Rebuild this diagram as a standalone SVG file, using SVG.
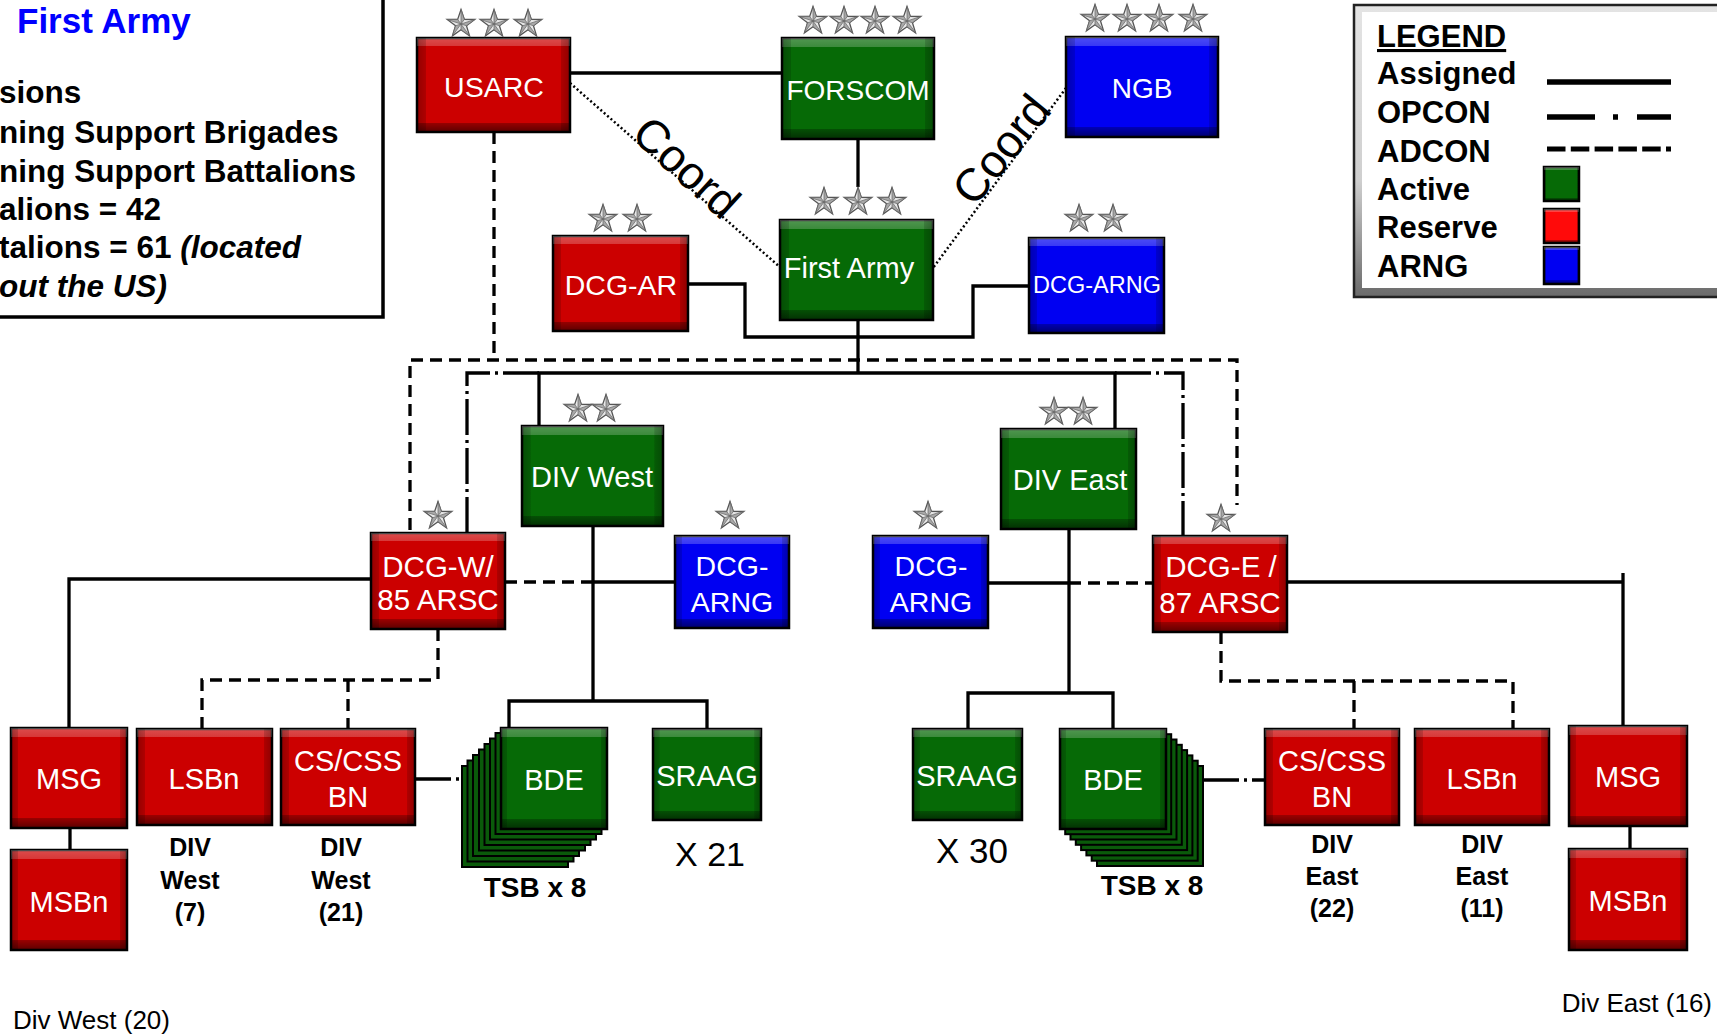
<svg xmlns="http://www.w3.org/2000/svg" xmlns:xlink="http://www.w3.org/1999/xlink" width="1717" height="1035" viewBox="0 0 1717 1035">
<style>
.box{stroke:#000;stroke-width:2.5}
.red{fill:#cc0000}
.rdl{fill:#ff0a0a}
.grn{fill:#066a06}
.blu{fill:#0000f2}
.card{fill:#0a5a0a;stroke:#000;stroke-width:2}
.bv{fill:url(#gv)}
.bh{fill:url(#gh)}
.t{font-family:"Liberation Sans",Arial,sans-serif;font-size:29px;fill:#fff;text-anchor:middle}
.lbl{font-family:"Liberation Sans",Arial,sans-serif;font-size:25px;font-weight:bold;fill:#000;text-anchor:middle}
.big{font-family:"Liberation Sans",Arial,sans-serif;fill:#000}
.as{fill:none;stroke:#000;stroke-width:3.3}
.ad{fill:none;stroke:#000;stroke-width:3.3;stroke-dasharray:12 7}
.op{fill:none;stroke:#000;stroke-width:3.3;stroke-dasharray:36 5 3 5}
.co{fill:none;stroke:#000;stroke-width:2.5;stroke-dasharray:2 2.5}
.lg{font-family:"Liberation Sans",Arial,sans-serif;font-size:31px;font-weight:bold;fill:#000}
</style>
<defs>
<linearGradient id="gv" x1="0" y1="0" x2="0" y2="1">
<stop offset="0" stop-color="#fff" stop-opacity=".3"/>
<stop offset=".085" stop-color="#fff" stop-opacity=".22"/>
<stop offset=".086" stop-color="#fff" stop-opacity="0"/>
<stop offset=".9" stop-color="#000" stop-opacity="0"/>
<stop offset=".901" stop-color="#000" stop-opacity=".25"/>
<stop offset="1" stop-color="#000" stop-opacity=".55"/>
</linearGradient>
<linearGradient id="gh" x1="0" y1="0" x2="1" y2="0">
<stop offset="0" stop-color="#000" stop-opacity=".28"/>
<stop offset=".06" stop-color="#000" stop-opacity=".14"/>
<stop offset=".061" stop-color="#000" stop-opacity="0"/>
<stop offset=".939" stop-color="#000" stop-opacity="0"/>
<stop offset=".94" stop-color="#000" stop-opacity=".14"/>
<stop offset="1" stop-color="#000" stop-opacity=".3"/>
</linearGradient>
<linearGradient id="lgb" x1="0" y1="0" x2="0" y2="1">
<stop offset="0" stop-color="#e4e4e4"/>
<stop offset=".6" stop-color="#cfcfcf"/>
<stop offset="1" stop-color="#6a6a6a"/>
</linearGradient>
<g id="star">
<path d="M0,-14.5 L3.35,-4.6 L13.8,-4.5 L5.45,1.77 L8.55,11.75 L0,5.7 L-8.55,11.75 L-5.45,1.77 L-13.8,-4.5 L-3.35,-4.6Z" fill="#e8e8e8" stroke="#555" stroke-width="1.3"/>
<path d="M0,-14.5 L0,0 L3.35,-4.6Z M13.8,-4.5 L0,0 L5.45,1.77Z M8.55,11.75 L0,0 L0,5.7Z M-8.55,11.75 L0,0 L-5.45,1.77Z M-13.8,-4.5 L0,0 L-3.35,-4.6Z" fill="#a8a8a8" stroke="#666" stroke-width="0.7"/>
</g>
</defs>
<rect x="0" y="0" width="1717" height="1035" fill="#fff"/>

<!-- info box (top left) -->
<g id="info">
<rect x="-5" y="-5" width="388" height="322" fill="#fff" stroke="#000" stroke-width="3.5"/>
<text class="big" x="17" y="33" font-size="35" font-weight="bold" style="fill:#0000ff">First Army</text>
<text class="big" x="-1" y="103" font-size="31.5" font-weight="bold">sions</text>
<text class="big" x="-1" y="143" font-size="31.5" font-weight="bold">ning Support Brigades</text>
<text class="big" x="-1" y="182" font-size="31.5" font-weight="bold">ning Support Battalions</text>
<text class="big" x="-1" y="220" font-size="31.5" font-weight="bold">alions = 42</text>
<text class="big" x="-1" y="258" font-size="31.5" font-weight="bold">talions = 61 <tspan font-style="italic">(located</tspan></text>
<text class="big" x="-1" y="297" font-size="31.5" font-weight="bold" font-style="italic">out the US)</text>
</g>

<!-- legend -->
<g id="legend">
<rect x="1354" y="5" width="380" height="292" fill="url(#lgb)" stroke="#222" stroke-width="2.5"/>
<rect x="1362" y="12" width="380" height="276" fill="#fff"/>
<text class="lg" x="1377" y="47" text-decoration="underline">LEGEND</text>
<text class="lg" x="1377" y="84">Assigned</text>
<text class="lg" x="1377" y="123">OPCON</text>
<text class="lg" x="1377" y="162">ADCON</text>
<text class="lg" x="1377" y="200">Active</text>
<text class="lg" x="1377" y="238">Reserve</text>
<text class="lg" x="1377" y="277">ARNG</text>
<path d="M1547,82 H1671" stroke="#000" stroke-width="5.5" fill="none"/>
<path d="M1547,117 H1595 M1613,117 H1618 M1637,117 H1671" stroke="#000" stroke-width="5.5" fill="none"/>
<path d="M1547,149 H1671" stroke="#000" stroke-width="5" fill="none" stroke-dasharray="18.5 5.3"/>
<rect class="box grn" x="1544" y="167" width="35" height="34"/><rect class="bv" x="1544" y="167" width="35" height="34"/><rect class="bh" x="1544" y="167" width="35" height="34"/>
<rect class="box rdl" x="1544" y="209" width="35" height="34"/><rect class="bv" x="1544" y="209" width="35" height="34"/><rect class="bh" x="1544" y="209" width="35" height="34"/>
<rect class="box blu" x="1544" y="247" width="35" height="37"/><rect class="bv" x="1544" y="247" width="35" height="37"/><rect class="bh" x="1544" y="247" width="35" height="37"/>
</g>

<!-- connectors -->
<g id="connectors">
<path class="as" d="M570,73 H782"/>
<path class="as" d="M858,139 V187"/>
<path class="as" d="M688,284 H745 V337 H858"/>
<path class="as" d="M1029,286 H973 V337 H858"/>
<path class="as" d="M858,320 V373"/>
<path class="as" d="M539,426 V373 H1115 V429"/>
<path class="as" d="M593,526 V701"/>
<path class="as" d="M509,728 V701 H707 V729"/>
<path class="as" d="M593,582 H675"/>
<path class="as" d="M1069,529 V693"/>
<path class="as" d="M968,729 V693 H1113 V729"/>
<path class="as" d="M988,583 H1069"/>
<path class="as" d="M371,579 H69 V728"/>
<path class="as" d="M70,828 V850"/>
<path class="as" d="M1287,582 H1623"/>
<path class="as" d="M1623,573 V726"/>
<path class="as" d="M1630,826 V849"/>
<path class="ad" d="M494,132 V360"/>
<path class="ad" d="M410,530 V360 H1237 V505"/>
<path class="ad" d="M505,582 H593"/>
<path class="ad" d="M1069,583 H1153"/>
<path class="ad" d="M438,629 V680"/>
<path class="ad" d="M202,729 V680 H438"/>
<path class="ad" d="M348,680 V729"/>
<path class="ad" d="M1221,632 V681 H1513 V729"/>
<path class="ad" d="M1354,681 V729"/>
<path class="op" d="M539,373 H467 V533"/>
<path class="op" d="M1115,373 H1183 V536"/>
<path class="op" d="M415,779 H462"/>
<path class="op" d="M1203,780 H1265"/>
<path class="co" d="M570,83 L781,268"/>
<path class="co" d="M1066,88 L933,268"/>
<text class="big" font-size="46" text-anchor="middle" transform="translate(686,168) rotate(42.5)" x="0" y="15">Coord</text>
<text class="big" font-size="46" text-anchor="middle" transform="translate(1002,150) rotate(-51)" x="0" y="15">Coord</text>
</g>

<!-- nodes -->
<g id="usarc">
<rect class="box red" x="417" y="38" width="153" height="94"/><rect class="bv" x="417" y="38" width="153" height="94"/><rect class="bh" x="417" y="38" width="153" height="94"/>
<text class="t" x="494" y="97" style="font-size:28.5px">USARC</text>
<use href="#star" xlink:href="#star" transform="translate(461,24)"/><use href="#star" xlink:href="#star" transform="translate(494,24)"/><use href="#star" xlink:href="#star" transform="translate(528,24)"/>
</g>
<g id="forscom">
<rect class="box grn" x="782" y="38" width="152" height="101"/><rect class="bv" x="782" y="38" width="152" height="101"/><rect class="bh" x="782" y="38" width="152" height="101"/>
<text class="t" x="858" y="100" style="font-size:28px">FORSCOM</text>
<use href="#star" xlink:href="#star" transform="translate(813,21)"/><use href="#star" xlink:href="#star" transform="translate(844,21)"/><use href="#star" xlink:href="#star" transform="translate(875,21)"/><use href="#star" xlink:href="#star" transform="translate(907,21)"/>
</g>
<g id="ngb">
<rect class="box blu" x="1066" y="37" width="152" height="100"/><rect class="bv" x="1066" y="37" width="152" height="100"/><rect class="bh" x="1066" y="37" width="152" height="100"/>
<text class="t" x="1142" y="98" style="font-size:28px">NGB</text>
<use href="#star" xlink:href="#star" transform="translate(1095,19)"/><use href="#star" xlink:href="#star" transform="translate(1127,19)"/><use href="#star" xlink:href="#star" transform="translate(1159,19)"/><use href="#star" xlink:href="#star" transform="translate(1193,19)"/>
</g>
<g id="dcg-ar">
<rect class="box red" x="553" y="236" width="135" height="95"/><rect class="bv" x="553" y="236" width="135" height="95"/><rect class="bh" x="553" y="236" width="135" height="95"/>
<text class="t" x="621" y="295" style="font-size:28.5px">DCG-AR</text>
<use href="#star" xlink:href="#star" transform="translate(603,219)"/><use href="#star" xlink:href="#star" transform="translate(637,219)"/>
</g>
<g id="first-army">
<rect class="box grn" x="780" y="220" width="153" height="100"/><rect class="bv" x="780" y="220" width="153" height="100"/><rect class="bh" x="780" y="220" width="153" height="100"/>
<text class="t" x="849" y="278">First Army</text>
<use href="#star" xlink:href="#star" transform="translate(824,202)"/><use href="#star" xlink:href="#star" transform="translate(858,202)"/><use href="#star" xlink:href="#star" transform="translate(892,202)"/>
</g>
<g id="dcg-arng-top">
<rect class="box blu" x="1029" y="238" width="135" height="95"/><rect class="bv" x="1029" y="238" width="135" height="95"/><rect class="bh" x="1029" y="238" width="135" height="95"/>
<text class="t" x="1097" y="293" style="font-size:23.5px">DCG-ARNG</text>
<use href="#star" xlink:href="#star" transform="translate(1079,219)"/><use href="#star" xlink:href="#star" transform="translate(1113,219)"/>
</g>
<g id="div-west">
<rect class="box grn" x="522" y="426" width="141" height="100"/><rect class="bv" x="522" y="426" width="141" height="100"/><rect class="bh" x="522" y="426" width="141" height="100"/>
<text class="t" x="592" y="487">DIV West</text>
<use href="#star" xlink:href="#star" transform="translate(578,409)"/><use href="#star" xlink:href="#star" transform="translate(606,409)"/>
</g>
<g id="div-east">
<rect class="box grn" x="1001" y="429" width="135" height="100"/><rect class="bv" x="1001" y="429" width="135" height="100"/><rect class="bh" x="1001" y="429" width="135" height="100"/>
<text class="t" x="1070" y="490">DIV East</text>
<use href="#star" xlink:href="#star" transform="translate(1054,412)"/><use href="#star" xlink:href="#star" transform="translate(1083,412)"/>
</g>
<g id="dcg-w">
<rect class="box red" x="371" y="533" width="134" height="96"/><rect class="bv" x="371" y="533" width="134" height="96"/><rect class="bh" x="371" y="533" width="134" height="96"/>
<text class="t" x="438" y="577" style="font-size:29.5px">DCG-W/</text>
<text class="t" x="438" y="610" style="font-size:29.5px">85 ARSC</text>
<use href="#star" xlink:href="#star" transform="translate(438,516)"/>
</g>
<g id="dcg-arng-west">
<rect class="box blu" x="675" y="536" width="114" height="92"/><rect class="bv" x="675" y="536" width="114" height="92"/><rect class="bh" x="675" y="536" width="114" height="92"/>
<text class="t" x="732" y="576" style="font-size:28.5px">DCG-</text>
<text class="t" x="732" y="612" style="font-size:28.5px">ARNG</text>
<use href="#star" xlink:href="#star" transform="translate(730,516)"/>
</g>
<g id="dcg-arng-east">
<rect class="box blu" x="873" y="536" width="115" height="92"/><rect class="bv" x="873" y="536" width="115" height="92"/><rect class="bh" x="873" y="536" width="115" height="92"/>
<text class="t" x="931" y="576" style="font-size:28.5px">DCG-</text>
<text class="t" x="931" y="612" style="font-size:28.5px">ARNG</text>
<use href="#star" xlink:href="#star" transform="translate(928,516)"/>
</g>
<g id="dcg-e">
<rect class="box red" x="1153" y="536" width="134" height="96"/><rect class="bv" x="1153" y="536" width="134" height="96"/><rect class="bh" x="1153" y="536" width="134" height="96"/>
<text class="t" x="1221" y="577" style="font-size:29.5px">DCG-E /</text>
<text class="t" x="1220" y="613" style="font-size:29.5px">87 ARSC</text>
<use href="#star" xlink:href="#star" transform="translate(1221,519)"/>
</g>
<g id="msg-west">
<rect class="box red" x="11" y="728" width="116" height="100"/><rect class="bv" x="11" y="728" width="116" height="100"/><rect class="bh" x="11" y="728" width="116" height="100"/>
<text class="t" x="69" y="789">MSG</text>
</g>
<g id="msbn-west">
<rect class="box red" x="11" y="850" width="116" height="100"/><rect class="bv" x="11" y="850" width="116" height="100"/><rect class="bh" x="11" y="850" width="116" height="100"/>
<text class="t" x="69" y="912">MSBn</text>
</g>
<g id="lsbn-west">
<rect class="box red" x="137" y="729" width="135" height="96"/><rect class="bv" x="137" y="729" width="135" height="96"/><rect class="bh" x="137" y="729" width="135" height="96"/>
<text class="t" x="204" y="789">LSBn</text>
<text class="lbl" x="190" y="856">DIV</text>
<text class="lbl" x="190" y="889">West</text>
<text class="lbl" x="190" y="921">(7)</text>
</g>
<g id="cscss-west">
<rect class="box red" x="281" y="729" width="134" height="96"/><rect class="bv" x="281" y="729" width="134" height="96"/><rect class="bh" x="281" y="729" width="134" height="96"/>
<text class="t" x="348" y="771">CS/CSS</text>
<text class="t" x="348" y="807">BN</text>
<text class="lbl" x="341" y="856">DIV</text>
<text class="lbl" x="341" y="889">West</text>
<text class="lbl" x="341" y="921">(21)</text>
</g>
<g id="bde-west">
<rect class="card" x="462" y="766" width="106" height="101"/>
<rect class="card" x="467.5" y="760.5" width="106" height="101"/>
<rect class="card" x="473" y="755" width="106" height="101"/>
<rect class="card" x="479" y="749.5" width="106" height="101"/>
<rect class="card" x="484.5" y="744" width="106" height="101"/>
<rect class="card" x="490" y="738.5" width="106" height="101"/>
<rect class="card" x="495.5" y="733" width="106" height="101"/>
<rect class="box grn" x="501" y="728" width="106" height="101"/><rect class="bv" x="501" y="728" width="106" height="101"/><rect class="bh" x="501" y="728" width="106" height="101"/>
<text class="t" x="554" y="790">BDE</text>
<text class="lbl" x="535" y="897" style="font-size:28px">TSB x 8</text>
</g>
<g id="sraag-west">
<rect class="box grn" x="653" y="729" width="108" height="91"/><rect class="bv" x="653" y="729" width="108" height="91"/><rect class="bh" x="653" y="729" width="108" height="91"/>
<text class="t" x="707" y="786">SRAAG</text>
<text class="big" x="710" y="866" font-size="34" text-anchor="middle">X 21</text>
</g>
<g id="sraag-east">
<rect class="box grn" x="913" y="729" width="109" height="91"/><rect class="bv" x="913" y="729" width="109" height="91"/><rect class="bh" x="913" y="729" width="109" height="91"/>
<text class="t" x="967" y="786">SRAAG</text>
<text class="big" x="972" y="863" font-size="35" text-anchor="middle">X 30</text>
</g>
<g id="bde-east">
<rect class="card" x="1097" y="766" width="106" height="100"/>
<rect class="card" x="1091.7" y="760.7" width="106" height="100"/>
<rect class="card" x="1086.4" y="755.4" width="106" height="100"/>
<rect class="card" x="1081.1" y="750.1" width="106" height="100"/>
<rect class="card" x="1075.8" y="744.8" width="106" height="100"/>
<rect class="card" x="1070.5" y="739.5" width="106" height="100"/>
<rect class="card" x="1065.2" y="734.2" width="106" height="100"/>
<rect class="box grn" x="1060" y="729" width="106" height="100"/><rect class="bv" x="1060" y="729" width="106" height="100"/><rect class="bh" x="1060" y="729" width="106" height="100"/>
<text class="t" x="1113" y="790">BDE</text>
<text class="lbl" x="1152" y="895" style="font-size:28px">TSB x 8</text>
</g>
<g id="cscss-east">
<rect class="box red" x="1265" y="729" width="134" height="96"/><rect class="bv" x="1265" y="729" width="134" height="96"/><rect class="bh" x="1265" y="729" width="134" height="96"/>
<text class="t" x="1332" y="771">CS/CSS</text>
<text class="t" x="1332" y="807">BN</text>
<text class="lbl" x="1332" y="853">DIV</text>
<text class="lbl" x="1332" y="885">East</text>
<text class="lbl" x="1332" y="917">(22)</text>
</g>
<g id="lsbn-east">
<rect class="box red" x="1415" y="729" width="134" height="96"/><rect class="bv" x="1415" y="729" width="134" height="96"/><rect class="bh" x="1415" y="729" width="134" height="96"/>
<text class="t" x="1482" y="789">LSBn</text>
<text class="lbl" x="1482" y="853">DIV</text>
<text class="lbl" x="1482" y="885">East</text>
<text class="lbl" x="1482" y="917">(11)</text>
</g>
<g id="msg-east">
<rect class="box red" x="1569" y="726" width="118" height="100"/><rect class="bv" x="1569" y="726" width="118" height="100"/><rect class="bh" x="1569" y="726" width="118" height="100"/>
<text class="t" x="1628" y="787">MSG</text>
</g>
<g id="msbn-east">
<rect class="box red" x="1569" y="849" width="118" height="101"/><rect class="bv" x="1569" y="849" width="118" height="101"/><rect class="bh" x="1569" y="849" width="118" height="101"/>
<text class="t" x="1628" y="911">MSBn</text>
</g>

<g id="footnotes">
<text class="big" x="13" y="1029" font-size="26">Div West (20)</text>
<text class="big" x="1712" y="1012" font-size="26" text-anchor="end">Div East (16)</text>
</g>
</svg>
